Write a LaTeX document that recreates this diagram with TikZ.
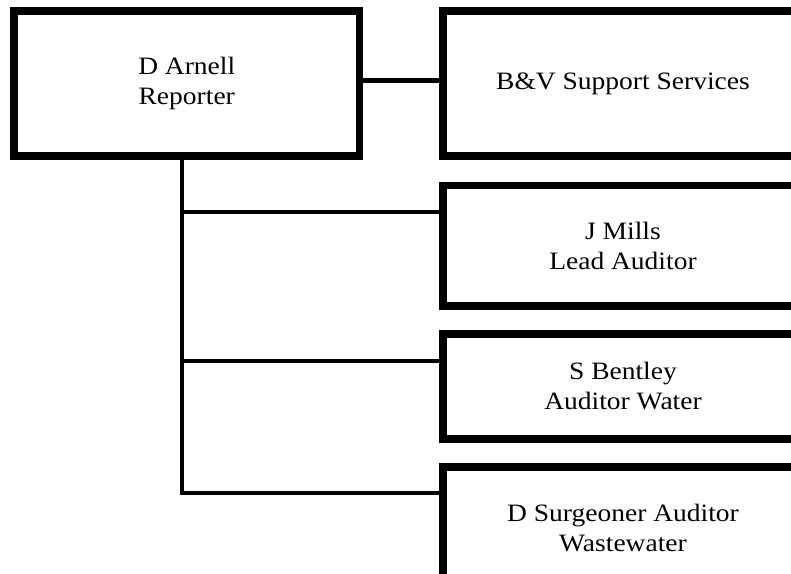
\documentclass[tikz,border=0pt]{standalone}
\usepackage{fontspec}
\setmainfont[FakeStretch=1.1]{Liberation Serif}
\begin{document}
\begin{tikzpicture}[x=1pt,y=1pt,
  orgbox/.style={draw=black, line width=7.7pt, rectangle, align=center, inner sep=0pt,
                 font=\fontsize{25}{30}\selectfont},
  conn/.style={draw=black, line width=4.3pt}]
\useasboundingbox (0,0) rectangle (791,-573);
\clip (0,0) rectangle (791,-573);
\fill[white] (0,0) rectangle (791,-573);
\node[orgbox, minimum width=345.5pt, minimum height=145pt] (rep) at (186.75,-83.5) {D Arnell\\Reporter};
\node[orgbox, minimum width=360pt, minimum height=145pt] (bv) at (623,-83.5) {B\&V Support Services};
\node[orgbox, minimum width=360pt, minimum height=120.5pt] (mills) at (623,-245.75) {J Mills\\Lead Auditor};
\node[orgbox, minimum width=360pt, minimum height=105.3pt] (bent) at (623,-386.35) {S Bentley\\Auditor Water};
\node[orgbox, minimum width=360pt, minimum height=122.6pt] (surg) at (623,-528) {D Surgeoner Auditor\\Wastewater};
\draw[conn] ([yshift=3pt]rep.east) -- ([yshift=3pt]bv.west);
\draw[conn] ([xshift=-4.75pt]rep.south) |- ([yshift=33.75pt]mills.west);
\draw[conn] ([xshift=-4.75pt]rep.south) |- ([yshift=25.35pt]bent.west);
\draw[conn] ([xshift=-4.75pt]rep.south) |- ([yshift=35pt]surg.west);
\end{tikzpicture}
\end{document}
